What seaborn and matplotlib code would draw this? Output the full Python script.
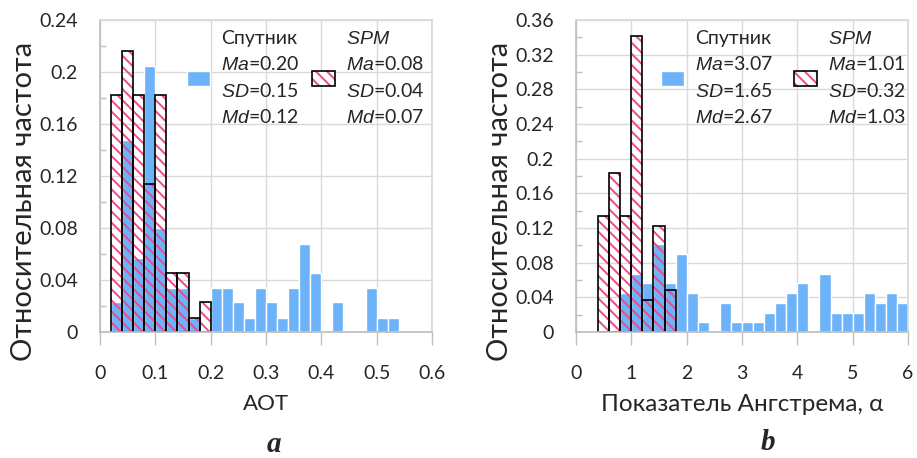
import numpy as np
import pandas as pd
import matplotlib
matplotlib.use("Agg")
import matplotlib.pyplot as plt
from matplotlib.patches import Patch
from matplotlib.ticker import MultipleLocator
import seaborn as sns

# --- data (relative frequency per bin) ---
# panel a: AOT, bin width 0.02
aot_width = 0.02
aot_sat_start = 0.02
aot_sat_freq = [0.023, 0.148, 0.057, 0.205, 0.080, 0.034, 0.034, 0.011, 0.0,
                0.034, 0.034, 0.023, 0.011, 0.034, 0.023, 0.011, 0.034, 0.068,
                0.045, 0.0, 0.023, 0.0, 0.0, 0.034, 0.011, 0.011]
aot_spm_start = 0.02
aot_spm_freq = [0.182, 0.216, 0.182, 0.114, 0.182, 0.045, 0.045, 0.011, 0.023]

# panel b: Angstrom exponent, bin width 0.2
ang_width = 0.2
ang_sat_start = 0.8
ang_sat_freq = [0.045, 0.067, 0.056, 0.101, 0.056, 0.090, 0.045, 0.011, 0.0,
                0.034, 0.011, 0.011, 0.011, 0.022, 0.034, 0.045, 0.056, 0.0,
                0.067, 0.022, 0.022, 0.022, 0.045, 0.034, 0.045, 0.034]
ang_spm_start = 0.4
ang_spm_freq = [0.134, 0.183, 0.134, 0.342, 0.037, 0.122, 0.049]

sat_stats_a = ["0.20", "0.15", "0.12"]
spm_stats_a = ["0.08", "0.04", "0.07"]
sat_stats_b = ["3.07", "1.65", "2.67"]
spm_stats_b = ["1.01", "0.32", "1.03"]

BLUE = "#6cb3f9"
PINK = "#ee4a8a"
GRID = "#d9d9d9"

sns.set_theme(style="white")
plt.rcParams["font.family"] = ["Lato", "DejaVu Sans"]
plt.rcParams["mathtext.fontset"] = "custom"
plt.rcParams["mathtext.it"] = "Liberation Sans:italic"
plt.rcParams["mathtext.rm"] = "Liberation Sans"
plt.rcParams["hatch.linewidth"] = 1.4


def draw_hist(ax, start, width, freq, **kws):
    edges = start + width * np.arange(len(freq) + 1)
    df = pd.DataFrame({"x": (edges[:-1] + edges[1:]) / 2, "w": freq})
    sns.histplot(data=df, x="x", weights="w", bins=list(edges), ax=ax, **kws)


def draw_panel(ax, sat, spm, xmax, xstep, ymax, ystep, xlabel, xlabel_size,
               sat_stats, spm_stats, leg_x, col_space):
    # satellite bars (solid blue)
    draw_hist(ax, *sat, color=BLUE, alpha=1, edgecolor="white", linewidth=1)
    # SPM bars: pink hatch, then black outline on top
    draw_hist(ax, *spm, facecolor="none", edgecolor=PINK, hatch="\\\\\\", linewidth=0)
    draw_hist(ax, *spm, fill=False, color="black", linewidth=1.2)

    ax.set_xlim(0, xmax)
    ax.set_ylim(0, ymax)
    ax.xaxis.set_major_locator(MultipleLocator(xstep))
    ax.yaxis.set_major_locator(MultipleLocator(ystep))
    ax.yaxis.set_minor_locator(MultipleLocator(ystep / 2))
    ax.grid(True, which="major", color=GRID, linewidth=1)
    ax.set_axisbelow(True)
    for sp in ax.spines.values():
        sp.set_color(GRID)
    ax.spines["left"].set_color("#bfbfbf")
    ax.spines["bottom"].set_color("#bfbfbf")
    ax.tick_params(axis="x", which="major", bottom=True, length=9.5, width=1,
                   color="#bfbfbf", labelsize=14, pad=14)
    ax.tick_params(axis="y", which="major", left=False, labelsize=14, pad=10)
    ax.tick_params(axis="y", which="minor", left=True, direction="in",
                   length=4, width=1, color="#bfbfbf")
    ax.yaxis.set_major_formatter(plt.FuncFormatter(lambda v, p: f"{v:g}"))
    ax.xaxis.set_major_formatter(plt.FuncFormatter(lambda v, p: f"{v:g}"))

    ax.set_ylabel("Относительная частота", fontsize=21)
    ax.yaxis.set_label_coords(-0.19, 0.42)
    ax.set_xlabel(xlabel, fontsize=xlabel_size, va="top")
    ax.xaxis.set_label_coords(0.5, -0.2)

    h_sat = Patch(facecolor=BLUE, edgecolor="white")
    h_spm = (Patch(facecolor="white", edgecolor=PINK, hatch="\\\\\\", linewidth=0),
             Patch(facecolor="none", edgecolor="black", linewidth=1.2))
    lab_sat = ("Спутник\n$Ma$=" + sat_stats[0] + "\n$SD$=" + sat_stats[1]
               + "\n$Md$=" + sat_stats[2])
    lab_spm = ("$SPM$\n$Ma$=" + spm_stats[0] + "\n$SD$=" + spm_stats[1]
               + "\n$Md$=" + spm_stats[2])
    leg = ax.legend([h_sat, h_spm], [lab_sat, lab_spm], ncol=2, frameon=False,
                    loc="upper left", bbox_to_anchor=(leg_x, 0.968), fontsize=14,
                    handlelength=1.2, handleheight=0.85, handletextpad=0.55,
                    columnspacing=col_space, borderpad=0, borderaxespad=0)
    for t in leg.get_texts():
        t.set_linespacing(1.56)


fig = plt.figure(figsize=(9.17, 4.58), dpi=100)
ax_a = fig.add_axes([100 / 917, 1 - 332 / 458, 332 / 917, 312 / 458])
ax_b = fig.add_axes([576 / 917, 1 - 332 / 458, 332 / 917, 312 / 458])

draw_panel(ax_a, (aot_sat_start, aot_width, aot_sat_freq),
           (aot_spm_start, aot_width, aot_spm_freq),
           0.6, 0.1, 0.24, 0.04, "AOT", 16, sat_stats_a, spm_stats_a, 0.262, 0.65)
draw_panel(ax_b, (ang_sat_start, ang_width, ang_sat_freq),
           (ang_spm_start, ang_width, ang_spm_freq),
           6, 1, 0.36, 0.04, "Показатель Ангстрема, α", 17.5,
           sat_stats_b, spm_stats_b, 0.256, 1.05)

fig.text(274 / 917, 1 - 452 / 458, "a", ha="center", va="baseline",
         family="Liberation Serif", style="italic", weight="bold", size=21)
fig.text(768 / 917, 1 - 450 / 458, "b", ha="center", va="baseline",
         family="Liberation Serif", style="italic", weight="bold", size=21)

fig.savefig("out.png", dpi=100)
